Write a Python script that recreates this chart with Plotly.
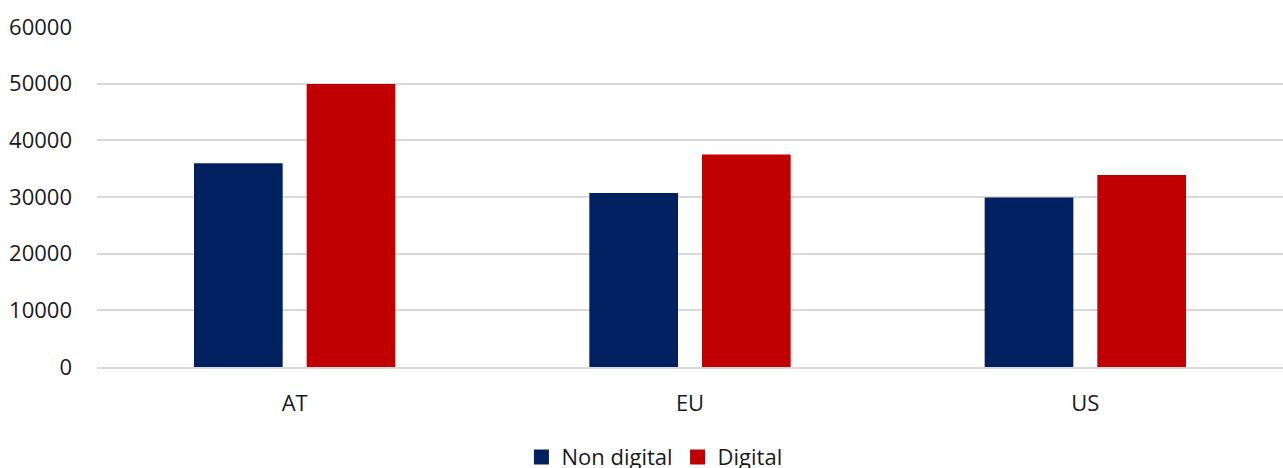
import plotly.graph_objects as go

categories = ["AT", "EU", "US"]
non_digital = [35950, 30700, 29900]
digital = [49950, 37500, 33900]
series_names = ["Non digital", "Digital"]
colors = ["#002060", "#C00000"]
y_ticks = [0, 10000, 20000, 30000, 40000, 50000, 60000]

fig = go.Figure()
for vals, name, col in [(non_digital, series_names[0], colors[0]), (digital, series_names[1], colors[1])]:
    fig.add_trace(go.Bar(x=categories, y=vals, name=name, showlegend=False,
                         marker=dict(color=col, line=dict(width=0))))
# legend entries with larger square symbols
for name, col in zip(series_names, colors):
    fig.add_trace(go.Scatter(x=[None], y=[None], mode="markers", name=name,
                             marker=dict(symbol="square", size=15, color=col)))

font_family = "Open Sans, Noto Sans, sans-serif"
fig.update_layout(
    width=1283, height=468,
    margin=dict(l=97, r=0, t=27, b=101, autoexpand=False),
    paper_bgcolor="white", plot_bgcolor="white",
    barmode="group", bargap=0.43, bargroupgap=0.213,
    font=dict(family=font_family, size=22, color="#1a1a1a"),
    showlegend=True,
    legend=dict(orientation="h", x=0.47, xanchor="center", y=-0.265, yanchor="middle",
                font=dict(size=22, color="#1a1a1a"), itemwidth=30, tracegroupgap=0,
                bgcolor="rgba(0,0,0,0)"),
    xaxis=dict(showgrid=False, showline=True, linecolor="#d9d9d9", linewidth=1.5,
               ticks="", ticklabelstandoff=16, tickfont=dict(size=22, color="#1a1a1a")),
    yaxis=dict(range=[0, 60000], tickvals=y_ticks, ticktext=[str(v) for v in y_ticks],
               showgrid=True, gridcolor="#d9d9d9", gridwidth=1.5, zeroline=False,
               showline=False, ticks="", ticklabelstandoff=24,
               tickfont=dict(size=22, color="#1a1a1a")),
)

fig.write_html("out.html", config={"displayModeBar": False},
               post_script="document.body.style.margin='0';document.body.style.overflow='hidden';")
